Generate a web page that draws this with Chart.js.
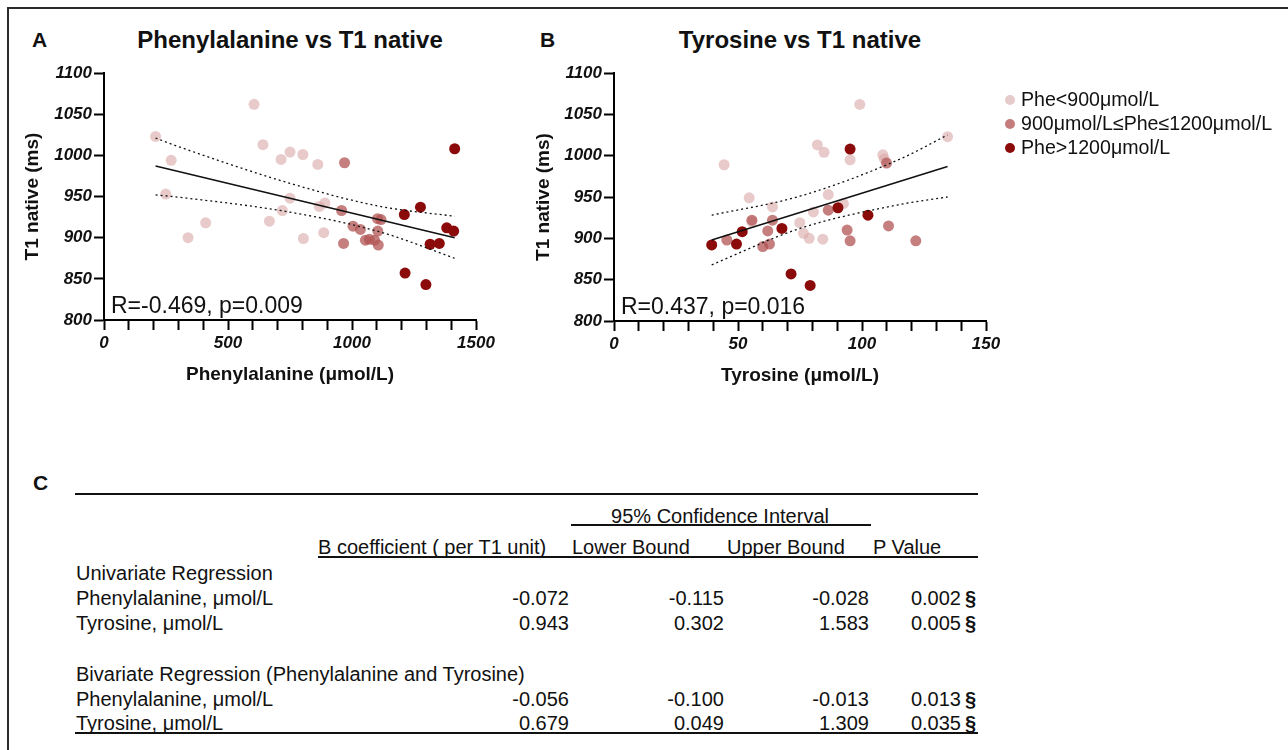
<!DOCTYPE html>
<html>
<head>
<meta charset="utf-8">
<script src="https://cdn.jsdelivr.net/npm/chart.js@4.4.1/dist/chart.umd.min.js"></script>
<style>
  body { margin: 0; background: #fff; font-family: "Liberation Sans", Arial, sans-serif; color: #111; }
  #page { position: relative; width: 1288px; height: 750px; overflow: hidden; }
  .frame { position: absolute; left: 7px; top: 7px; width: 1300px; height: 760px; border-left: 2px solid #2b2b2b; border-top: 2px solid #2b2b2b; }
  .abs { position: absolute; white-space: nowrap; line-height: 1; }
  .panel-letter { font-weight: bold; font-size: 21px; }
  .panel-title { font-weight: bold; font-size: 24px; transform: translateX(-50%); }
  canvas { position: absolute; top: 0; }
  .legend-text { font-size: 19.6px; }
  .legend-dot { position: absolute; width: 10px; height: 10px; border-radius: 50%; }
  .tbl { font-size: 20px; }
  .rule { position: absolute; background: #111; height: 2px; }
</style>
</head>
<body>
<div id="page">
  <div class="frame"></div>
  <div class="abs panel-letter" style="left:32px; top:29px;">A</div>
  <div class="abs panel-letter" style="left:540px; top:29px;">B</div>
  <div class="abs panel-letter" style="left:33px; top:472px;">C</div>
  <div class="abs panel-title" style="left:290px; top:28px;">Phenylalanine vs T1 native</div>
  <div class="abs panel-title" style="left:800px; top:28px;">Tyrosine vs T1 native</div>
  <canvas id="pheChart" width="510" height="400" style="left:0px;"></canvas>
  <canvas id="tyrChart" width="500" height="400" style="left:510px;"></canvas>
  <div id="legendBox"></div>
  <div id="tableBox"></div>
</div>

<script>
// Groups (legend)
const groupLabels = ["Phe<900μmol/L", "900μmol/L≤Phe≤1200μmol/L", "Phe>1200μmol/L"];
const groupColors = ["rgba(216,166,166,0.6)", "rgba(178,84,84,0.75)", "#8b0a0a"];
const legendColors = ["#e6cbcb", "#c47c7c", "#8b0a0a"];

// Panel A: Phenylalanine vs T1 native
const pheLowX = [208, 271, 249, 339, 410, 605, 641, 667, 714, 719, 750, 750, 802, 804, 862, 868, 891, 886];
const pheLowY = [1023, 994, 953, 900, 918, 1062, 1013, 920, 995, 933, 1004, 948, 1001, 899, 989, 938, 942, 906];
const pheMidX = [970, 958, 966, 1004, 1034, 1054, 1070, 1091, 1104, 1106, 1103, 1117];
const pheMidY = [991, 933, 893, 914, 910, 897, 898, 897, 908, 891, 923, 922];
const pheHighX = [1211, 1214, 1276, 1298, 1315, 1352, 1382, 1410, 1414];
const pheHighY = [928, 857, 937, 843, 892, 893, 912, 908, 1008];
const pheFitX = [208, 1414];
const pheFitY = [987, 900];
const pheBandX = [208, 306, 750, 1113, 1414];
const pheUpperY = [1021, 1010, 966, 938, 926];
const pheLowerY = [952, 949, 931, 907, 875];
const pheStat = "R=-0.469, p=0.009";

// Panel B: Tyrosine vs T1 native
const tyrLowX = [44.4, 54.5, 55.6, 63.9, 74.9, 76.4, 78.7, 80.4, 82, 84.7, 84.2, 86.4, 92.5, 95.2, 99.1, 108.4, 109, 134.5];
const tyrLowY = [989, 949, 920, 938, 919, 906, 900, 932, 1013, 1004, 899, 953, 942, 995, 1062, 1001, 996, 1023];
const tyrMidX = [45.5, 55.6, 60, 62, 62.7, 63.9, 86.4, 94, 95.2, 109.9, 110.7, 121.7];
const tyrMidY = [898, 922, 890, 909, 893, 922, 934, 910, 897, 991, 915, 897];
const tyrHighX = [39.4, 49.4, 51.7, 67.7, 71.4, 79.1, 90.3, 95.2, 102.4];
const tyrHighY = [892, 893, 908, 912, 857, 843, 937, 1008, 928];
const tyrFitX = [39.4, 134.5];
const tyrFitY = [898, 987];
const tyrBandX = [39.4, 75, 115.4, 134.5];
const tyrUpperY = [928, 951, 996, 1025];
const tyrLowerY = [868, 912, 941, 950];
const tyrStat = "R=0.437, p=0.016";

// Table C
const univLabels = ["Phenylalanine, μmol/L", "Tyrosine, μmol/L"];
const univCoef = ["-0.072", "0.943"];
const univLower = ["-0.115", "0.302"];
const univUpper = ["-0.028", "1.583"];
const univP = ["0.002", "0.005"];
const bivLabels = ["Phenylalanine, μmol/L", "Tyrosine, μmol/L"];
const bivCoef = ["-0.056", "0.679"];
const bivLower = ["-0.100", "0.049"];
const bivUpper = ["-0.013", "1.309"];
const bivP = ["0.013", "0.035"];

const FONT = '"Liberation Sans", Arial, sans-serif';
Chart.defaults.color = "#111";
Chart.defaults.font.family = FONT;

const toPoints = (xs, ys) => xs.map((x, i) => ({x: x, y: ys[i]}));

// Text inside the plot (R and p)
const statTextPlugin = {
    id: "statText",
    afterDatasetsDraw(chart, args, opts) {
        const {ctx, chartArea} = chart;
        ctx.save();
        ctx.font = "23px " + FONT;
        ctx.fillStyle = "#111";
        ctx.textBaseline = "alphabetic";
        ctx.fillText(opts.text, chartArea.left + 7, chartArea.bottom - 7);
        ctx.restore();
    }
};

//Scatter builder
const scatterBuilder = (cfg) => {
    try {
        let canvasObject = document.getElementById(cfg.canvasId);
        let lineStyle = {showLine: true, pointRadius: 0, borderColor: "#111", fill: false, cubicInterpolationMode: "monotone"};
        let datasets = [
            {...lineStyle, label: "fit", data: toPoints(cfg.fitX, cfg.fitY), borderWidth: 1.6},
            {...lineStyle, label: "upper", data: toPoints(cfg.bandX, cfg.upperY), borderWidth: 1.3, borderDash: [2, 3]},
            {...lineStyle, label: "lower", data: toPoints(cfg.bandX, cfg.lowerY), borderWidth: 1.3, borderDash: [2, 3]},
        ];
        // dark group on top
        for (let g = cfg.groupsX.length - 1; g >= 0; g--) {
            datasets.push({
                label: groupLabels[g],
                data: toPoints(cfg.groupsX[g], cfg.groupsY[g]),
                backgroundColor: groupColors[g],
                borderWidth: 0,
                pointRadius: 5.5,
            });
        }
        new Chart(canvasObject, {
            type: "scatter",
            data: {datasets: datasets},
            options: {
                responsive: false,
                animation: false,
                layout: {padding: cfg.padding},
                scales: {
                    x: {
                        min: 0,
                        max: cfg.xMax,
                        afterFit: (scale) => { scale.height = 70; },
                        border: {display: true, color: "#000", width: 2},
                        grid: {drawOnChartArea: false, drawTicks: true, tickLength: 10, tickWidth: 2, tickColor: "#000"},
                        ticks: {
                            stepSize: cfg.xStep,
                            autoSkip: false,
                            maxRotation: 0,
                            padding: 3,
                            color: "#111",
                            font: {size: 17, weight: "bold", style: "italic"},
                            callback: (value) => (value % cfg.xLabelStep === 0 ? String(value) : ""),
                        },
                        title: {display: true, text: cfg.xTitle, color: "#111", font: {size: 19, weight: "bold"}, padding: 4},
                    },
                    y: {
                        min: 800,
                        max: 1100,
                        afterFit: (scale) => { scale.width = cfg.yAxisWidth; },
                        border: {display: true, color: "#000", width: 2},
                        grid: {drawOnChartArea: false, drawTicks: true, tickLength: 10, tickWidth: 2, tickColor: "#000"},
                        ticks: {
                            stepSize: 50,
                            padding: 2,
                            color: "#111",
                            font: {size: 17, weight: "bold", style: "italic"},
                            callback: (value) => String(value),
                        },
                        title: {display: true, text: "T1 native (ms)", color: "#111", font: {size: 19, weight: "bold"}, padding: 4},
                    },
                },
                plugins: {
                    legend: {display: false},
                    tooltip: {enabled: false},
                    statText: {text: cfg.statText},
                },
            },
            plugins: [statTextPlugin],
        });
    } catch (error) {
        console.log(error.message);
    }
};

scatterBuilder({
    canvasId: "pheChart",
    xTitle: "Phenylalanine (μmol/L)",
    xMax: 1500, xStep: 100, xLabelStep: 500,
    groupsX: [pheLowX, pheMidX, pheHighX],
    groupsY: [pheLowY, pheMidY, pheHighY],
    fitX: pheFitX, fitY: pheFitY,
    bandX: pheBandX, upperY: pheUpperY, lowerY: pheLowerY,
    statText: pheStat,
    padding: {left: 17, top: 73, right: 34, bottom: 10},
    yAxisWidth: 87,
});

scatterBuilder({
    canvasId: "tyrChart",
    xTitle: "Tyrosine (μmol/L)",
    xMax: 150, xStep: 10, xLabelStep: 50,
    groupsX: [tyrLowX, tyrMidX, tyrHighX],
    groupsY: [tyrLowY, tyrMidY, tyrHighY],
    fitX: tyrFitX, fitY: tyrFitY,
    bandX: tyrBandX, upperY: tyrUpperY, lowerY: tyrLowerY,
    statText: tyrStat,
    padding: {left: 18, top: 73, right: 24, bottom: 9},
    yAxisWidth: 86,
});

// Custom legend
const legendBox = document.getElementById("legendBox");
groupLabels.forEach((label, i) => {
    let dot = document.createElement("div");
    dot.className = "legend-dot";
    dot.style.left = "1005px";
    dot.style.top = (95 + i * 24) + "px";
    dot.style.backgroundColor = legendColors[i];
    legendBox.appendChild(dot);
    let text = document.createElement("div");
    text.className = "abs legend-text";
    text.style.left = "1021px";
    text.style.top = (89.5 + i * 24) + "px";
    text.textContent = label;
    legendBox.appendChild(text);
});

// Table C
const tableBox = document.getElementById("tableBox");
const addText = (text, x, centerY, align, bold) => {
    let el = document.createElement("div");
    el.className = "abs tbl";
    el.textContent = text;
    el.style.top = (centerY - 9.8) + "px";
    if (align === "right") el.style.right = (1288 - x) + "px";
    else if (align === "center") { el.style.left = x + "px"; el.style.transform = "translateX(-50%)"; }
    else el.style.left = x + "px";
    if (bold) el.style.fontWeight = "bold";
    tableBox.appendChild(el);
};
const addRule = (x1, x2, y) => {
    let el = document.createElement("div");
    el.className = "rule";
    el.style.left = x1 + "px";
    el.style.width = (x2 - x1) + "px";
    el.style.top = (y - 1) + "px";
    tableBox.appendChild(el);
};

addRule(75, 978, 494);
addText("95% Confidence Interval", 720, 515.5, "center");
addRule(571, 871, 525);
addText("B coefficient ( per T1 unit)", 318, 547, "left");
addText("Lower Bound", 572, 547, "left");
addText("Upper Bound", 727, 547, "left");
addText("P Value", 873, 547, "left");
addRule(318, 978, 557);

const addBlock = (title, titleY, labels, coef, lower, upper, p) => {
    addText(title, 76, titleY, "left");
    labels.forEach((label, i) => {
        let y = titleY + 25 + i * 24.5;
        addText(label, 76, y, "left");
        addText(coef[i], 569, y, "right");
        addText(lower[i], 724, y, "right");
        addText(upper[i], 869, y, "right");
        addText(p[i], 961, y, "right");
        addText("§", 965, y, "left", true);
    });
};
addBlock("Univariate Regression", 573, univLabels, univCoef, univLower, univUpper, univP);
addBlock("Bivariate Regression (Phenylalanine and Tyrosine)", 673.5, bivLabels, bivCoef, bivLower, bivUpper, bivP);
addRule(75, 978, 733);
</script>
</body>
</html>
